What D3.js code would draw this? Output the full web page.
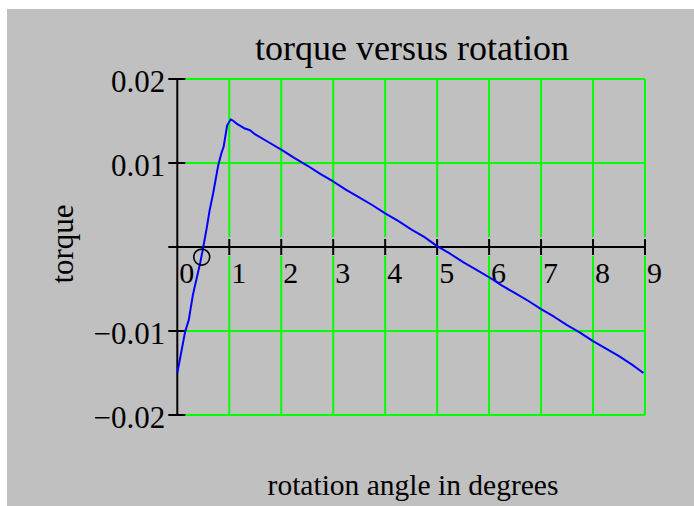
<!DOCTYPE html>
<html>
<head>
<meta charset="utf-8">
<script src="https://cdn.jsdelivr.net/npm/d3@7/dist/d3.min.js"></script>
<style>
  html, body { margin: 0; padding: 0; background: #ffffff; }
  svg { display: block; }
  text { font-family: "Liberation Serif", "Times New Roman", serif; fill: #000; }
</style>
</head>
<body>
<script>
// Measured torque against rotation angle (degrees)
const angle = [0.00, 0.15, 0.22, 0.30, 0.44, 0.50, 0.57, 0.62, 0.69, 0.79, 0.85, 0.89, 0.96, 1.03,
  1.08, 1.14, 1.30, 1.40, 1.50, 1.75, 2.00, 2.25, 2.50, 2.75, 3.00, 3.25, 3.50, 3.75, 4.00,
  4.25, 4.50, 4.75, 5.00, 5.25, 5.50, 5.75, 6.00, 6.25, 6.50, 6.75, 7.00, 7.25, 7.50, 7.75,
  8.00, 8.25, 8.50, 8.75, 8.97];
const torque = [-0.0150, -0.0101, -0.0087, -0.0057, -0.0019, 0.0000, 0.0024, 0.0043, 0.0064, 0.0098, 0.0112, 0.0119, 0.0145, 0.0152,
  0.0150, 0.0147, 0.0141, 0.0139, 0.0134, 0.0125, 0.0116, 0.0106, 0.0097, 0.0087, 0.0078, 0.0068, 0.0059, 0.0050, 0.0040,
  0.0031, 0.0021, 0.0012, 0.0001, -0.0008, -0.0018, -0.0027, -0.0036, -0.0046, -0.0055, -0.0064, -0.0074, -0.0083, -0.0093, -0.0102,
  -0.0112, -0.0121, -0.0130, -0.0140, -0.0150];

// Marked point near the zero crossing
const marker = [0.47, -0.0012];

const xTicks = [1, 2, 3, 4, 5, 6, 7, 8, 9];
const xTickLabels = ["0", "1", "2", "3", "4", "5", "6", "7", "8", "9"];
const yTicks = [0.02, 0.01, -0.01, -0.02];
const yTickLabels = ["0.02", "0.01", "\u22120.01", "\u22120.02"];

const W = 694, H = 506;
const svg = d3.select("body").append("svg").attr("width", W).attr("height", H);

// grey panel
svg.append("rect").attr("x", 7).attr("y", 9).attr("width", W - 7).attr("height", H - 9).attr("fill", "#c0c0c0");

const x = d3.scaleLinear().domain([0, 9]).range([177.3, 645]);
const y = d3.scaleLinear().domain([-0.02, 0.02]).range([415, 79]);

const green = "#00ff00";
const grid = svg.append("g").attr("stroke", green).attr("stroke-width", 2);

// horizontal grid lines
grid.selectAll("line.h").data(yTicks).join("line")
  .attr("x1", x(0) + 8).attr("x2", x(9))
  .attr("y1", d => y(d)).attr("y2", d => y(d));

// vertical grid lines, broken around the horizontal axis
grid.selectAll("line.va").data(xTicks).join("line")
  .attr("x1", d => x(d)).attr("x2", d => x(d))
  .attr("y1", y(0.02)).attr("y2", y(0) - 10);
grid.selectAll("line.vb").data(xTicks).join("line")
  .attr("x1", d => x(d)).attr("x2", d => x(d))
  .attr("y1", y(0) + 9).attr("y2", y(-0.02));

// axes
const ax = svg.append("g").attr("stroke", "#000").attr("stroke-width", 2);
ax.append("line").attr("x1", x(0)).attr("x2", x(0)).attr("y1", y(0.02)).attr("y2", y(-0.02));
ax.append("line").attr("x1", x(0) - 9).attr("x2", x(9)).attr("y1", y(0)).attr("y2", y(0));
ax.selectAll("line.yt").data(yTicks).join("line")
  .attr("x1", x(0) - 9).attr("x2", x(0) + 8)
  .attr("y1", d => y(d)).attr("y2", d => y(d));
ax.selectAll("line.xt").data(xTicks).join("line")
  .attr("x1", d => x(d)).attr("x2", d => x(d))
  .attr("y1", y(0) - 8).attr("y2", y(0) + 8);

// tick labels
svg.append("g").selectAll("text").data(yTicks).join("text")
  .attr("x", x(0) - 12).attr("y", d => y(d) + 13)
  .attr("text-anchor", "end").attr("font-size", 31)
  .text((d, i) => yTickLabels[i]);
svg.append("g").selectAll("text").data([0].concat(xTicks)).join("text")
  .attr("x", d => x(d) + 2).attr("y", y(0) + 36)
  .attr("font-size", 30)
  .text((d, i) => xTickLabels[i]);

// curve
const line = d3.line().x(d => x(d[0])).y(d => y(d[1]));
svg.append("path").datum(angle.map((a, i) => [a, torque[i]]))
  .attr("d", line).attr("fill", "none").attr("stroke", "#0000ff").attr("stroke-width", 2)
  .attr("stroke-linejoin", "round");

svg.append("circle").attr("cx", x(marker[0])).attr("cy", y(marker[1])).attr("r", 8)
  .attr("fill", "none").attr("stroke", "#000").attr("stroke-width", 1.6);

// titles
svg.append("text").attr("x", 412).attr("y", 60).attr("text-anchor", "middle")
  .attr("font-size", 36).text("torque versus rotation");
svg.append("text").attr("x", 413).attr("y", 495).attr("text-anchor", "middle")
  .attr("font-size", 29.5).text("rotation angle in degrees");
svg.append("text").attr("transform", "translate(73,244) rotate(-90)").attr("text-anchor", "middle")
  .attr("font-size", 31).text("torque");
</script>
</body>
</html>
